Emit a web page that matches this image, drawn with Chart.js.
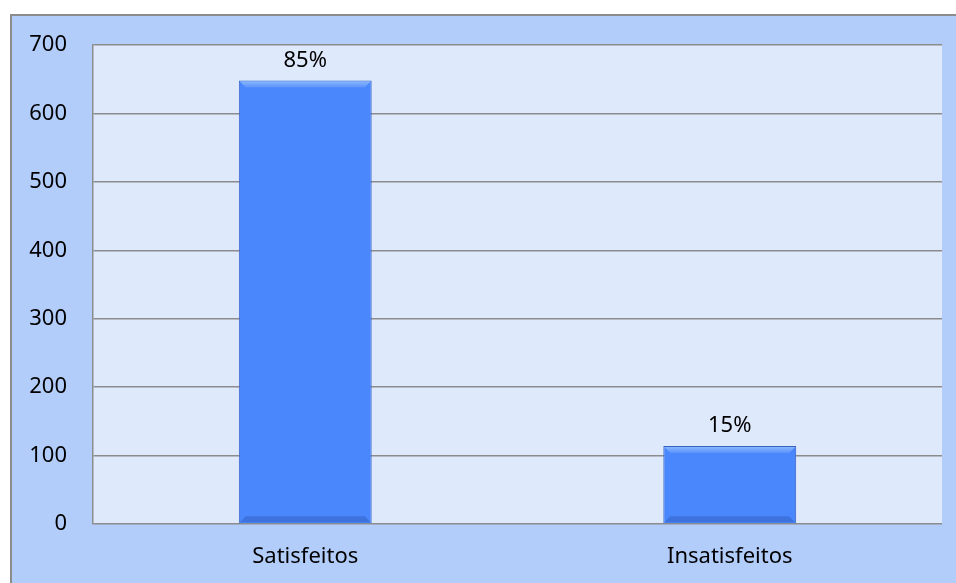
<!DOCTYPE html>
<html>
<head>
<meta charset="utf-8">
<script src="https://cdn.jsdelivr.net/npm/chart.js@4.4.0/dist/chart.umd.min.js"></script>
<style>
  html, body { margin:0; padding:0; background:#fff; overflow:hidden; }
  #frame {
    position:absolute; left:10px; top:14px; width:980px; height:600px;
    background:#b3cdfb; border:2px solid #8c8c8c; box-sizing:border-box;
  }
  #wrap { position:absolute; left:0; top:0; width:944px; height:567px; }
</style>
</head>
<body>
<div id="frame"><div id="wrap"><canvas id="c"></canvas></div></div>
<script>
'use strict';

const categories = ['Satisfeitos', 'Insatisfeitos'];
const respostas  = [648, 114];
const pctLabels  = ['85%', '15%'];
const yTicks     = [0, 100, 200, 300, 400, 500, 600, 700];

const FONT = "'Noto Sans', 'Open Sans', sans-serif";

// plot area fill, bevel on the bars, % labels above the bars
const plotDeco = {
  id: 'plotDeco',
  beforeDraw(chart) {
    const { ctx, chartArea: a } = chart;
    ctx.save();
    ctx.fillStyle = '#dfe9fc';
    ctx.fillRect(a.left, a.top, a.right - a.left, a.bottom - a.top);
    ctx.restore();
  },
  afterDatasetsDraw(chart) {
    const { ctx } = chart;
    const meta = chart.getDatasetMeta(0);
    ctx.save();
    meta.data.forEach(bar => {
      const l = bar.x - bar.width / 2, r = bar.x + bar.width / 2;
      const t = bar.y, b = bar.base, d = 7;
      // top bevel
      const g = ctx.createLinearGradient(0, t, 0, t + d);
      g.addColorStop(0, '#8fbcfd');
      g.addColorStop(1, '#5a92fc');
      ctx.fillStyle = g;
      ctx.beginPath();
      ctx.moveTo(l + 1, t + 1); ctx.lineTo(r - 1, t + 1);
      ctx.lineTo(r - d, t + d); ctx.lineTo(l + d, t + d);
      ctx.closePath(); ctx.fill();
      // bottom bevel
      ctx.fillStyle = 'rgba(40,80,170,0.35)';
      ctx.beginPath();
      ctx.moveTo(l + 1, b - 1); ctx.lineTo(r - 1, b - 1);
      ctx.lineTo(r - d, b - d); ctx.lineTo(l + d, b - d);
      ctx.closePath(); ctx.fill();
    });
    ctx.font = '22px ' + FONT;
    ctx.fillStyle = '#000';
    ctx.textAlign = 'center';
    ctx.textBaseline = 'middle';
    meta.data.forEach((bar, i) => {
      ctx.fillText(pctLabels[i], bar.x, bar.y - 20);
    });
    ctx.restore();
  }
};

function barFill(context) {
  const chart = context.chart;
  const el = context.element;
  if (!chart.chartArea || !el || el.width === undefined) return '#4a86fc';
  const x0 = el.x - el.width / 2, x1 = el.x + el.width / 2;
  const g = chart.ctx.createLinearGradient(x0, 0, x1, 0);
  g.addColorStop(0, '#5b93fc');
  g.addColorStop(0.05, '#4a86fc');
  g.addColorStop(0.95, '#4a86fc');
  g.addColorStop(1, '#3a6cd6');
  return g;
}

new Chart(document.getElementById('c'), {
  type: 'bar',
  data: {
    labels: categories,
    datasets: [{
      label: 'Respostas',
      data: respostas,
      backgroundColor: barFill,
      borderColor: '#3563c4',
      borderWidth: 1,
      categoryPercentage: 1,
      barPercentage: 0.313
    }]
  },
  options: {
    responsive: true,
    maintainAspectRatio: false,
    animation: false,
    layout: { padding: { top: 29, right: 14, left: 0, bottom: 0 } },
    plugins: { legend: { display: false }, tooltip: { enabled: false } },
    scales: {
      y: {
        min: 0, max: 700,
        afterBuildTicks: s => { s.ticks = yTicks.map(v => ({ value: v })); },
        // tick padding would otherwise push the plot top down
        afterFit: s => { s.width = 81; s.paddingTop = 0; s.paddingBottom = 0; },
        ticks: { color: '#000', font: { family: FONT, size: 22 }, padding: 26 },
        grid: { color: '#8c8c8c', lineWidth: 1.5, drawTicks: false },
        border: { display: true, color: '#8c8c8c', width: 1.5 }
      },
      x: {
        afterFit: s => { s.height = 59; },
        ticks: { color: '#000', font: { family: FONT, size: 22 }, padding: 20 },
        grid: { display: false, drawTicks: false },
        border: { display: false }
      }
    }
  },
  plugins: [plotDeco]
});
</script>
</body>
</html>
